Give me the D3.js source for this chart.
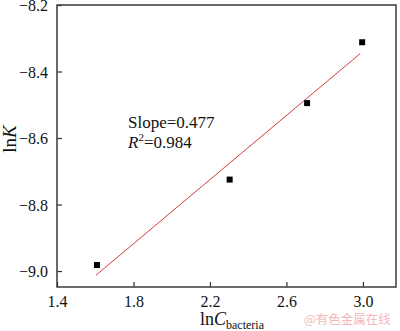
<!DOCTYPE html>
<html><head><meta charset="utf-8">
<script src="https://cdn.jsdelivr.net/npm/d3@7"></script>
<style>body{margin:0;background:#fff}svg{display:block}</style>
</head><body>
<script>
const xVals = [1.609, 2.303, 2.708, 2.996];
const yVals = [-8.982, -8.725, -8.495, -8.312];
const fitX = [1.603, 2.986];
const fitY = [-9.013, -8.346];
const xTicks = [1.4, 1.8, 2.2, 2.6, 3.0];
const yTicks = [-8.2, -8.4, -8.6, -8.8, -9.0];

const W = 400, H = 331;
const L = 57, R = 396, T = 5, B = 287;
const SERIF = "'Liberation Serif'";
const svg = d3.select("body").append("svg").attr("width", W).attr("height", H);
const x = d3.scaleLinear().domain([1.4, 3.173]).range([L, R]);
const y = d3.scaleLinear().domain([-9.048, -8.2]).range([B, T]);

const fmt = d => (d < 0 ? "\u2212" : "") + Math.abs(d).toFixed(1);

const gx = svg.append("g").attr("transform", `translate(0,${B})`)
  .call(d3.axisBottom(x).tickValues(xTicks).tickSizeInner(-5).tickSizeOuter(0).tickPadding(9).tickFormat(fmt));
const gy = svg.append("g").attr("transform", `translate(${L},0)`)
  .call(d3.axisLeft(y).tickValues(yTicks).tickSizeInner(-5).tickSizeOuter(0).tickPadding(9).tickFormat(fmt));
[gx, gy].forEach(g => {
  g.attr("font-family", "Liberation Serif").attr("font-size", 16);
  g.select(".domain").remove();
  g.selectAll(".tick line").attr("stroke", "#333").attr("stroke-width", 1.2);
  g.selectAll(".tick text").style("font-size", "16px").style("font-family", SERIF).style("fill", "#111");
});
gy.selectAll(".tick text").attr("dy", "0.35em");

svg.append("rect").attr("x", L).attr("y", T).attr("width", R - L).attr("height", B - T)
  .attr("fill", "none").attr("stroke", "#3a3a3a").attr("stroke-width", 1.5);

svg.append("line")
  .attr("x1", x(fitX[0])).attr("y1", y(fitY[0]))
  .attr("x2", x(fitX[1])).attr("y2", y(fitY[1]))
  .attr("stroke", "#d23c3c").attr("stroke-width", 1);

svg.selectAll("rect.pt").data(xVals).enter().append("rect").attr("class", "pt")
  .attr("x", (d) => x(d) - 3).attr("y", (d, i) => y(yVals[i]) - 3)
  .attr("width", 6).attr("height", 6).attr("fill", "#000");

const txt = (sel) => sel.style("font-family", SERIF).style("fill", "#111");

txt(svg.append("text")).attr("x", 128).attr("y", 128).style("font-size", "17px").text("Slope=0.477");
const r2 = txt(svg.append("text")).attr("x", 128).attr("y", 148).style("font-size", "17px");
r2.append("tspan").style("font-style", "italic").text("R");
r2.append("tspan").style("font-size", "11px").attr("dy", -7).text("2");
r2.append("tspan").attr("dy", 7).text("=0.984");

const yl = txt(svg.append("text")).attr("transform", "translate(16,139) rotate(-90)")
  .attr("text-anchor", "middle").style("font-size", "19px");
yl.append("tspan").text("ln");
yl.append("tspan").style("font-style", "italic").text("K");

const xl = txt(svg.append("text")).attr("x", 232).attr("y", 325).attr("text-anchor", "middle").style("font-size", "18px");
xl.append("tspan").text("ln");
xl.append("tspan").style("font-style", "italic").text("C");
xl.append("tspan").style("font-size", "12px").attr("dy", 4).text("bacteria");

svg.append("text").attr("x", 304).attr("y", 324).style("font-size", "12.5px")
  .style("font-family", "'Noto Sans CJK SC'")
  .style("fill", "#f2b9b9").text("@有色金属在线");
</script>
</body></html>
